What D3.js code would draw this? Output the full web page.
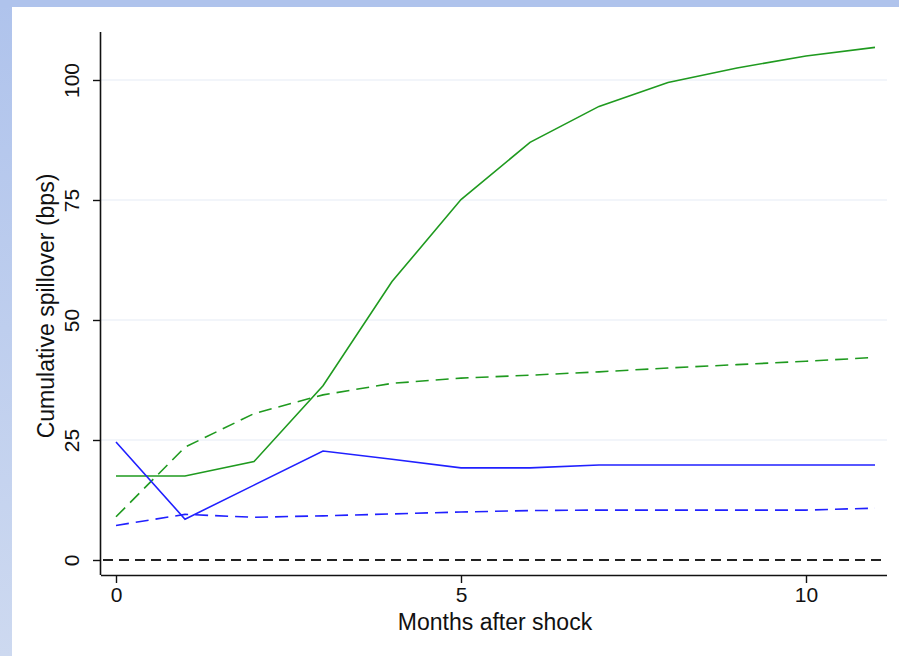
<!DOCTYPE html>
<html>
<head>
<meta charset="utf-8">
<script src="https://cdn.jsdelivr.net/npm/d3@7"></script>
<style>
  html, body { margin: 0; padding: 0; background: #fff; }
  svg { display: block; }
  text { font-family: "Liberation Sans", Arial, sans-serif; fill: #111; }
</style>
</head>
<body>
<svg id="chart" width="899" height="656"></svg>
<script>
// Months after the shock (x axis)
const months = [0, 1, 2, 3, 4, 5, 6, 7, 8, 9, 10, 11];

// Cumulative spillover estimates (bps)
const greenSolid  = [17.5, 17.5, 20.5, 36.3, 58.0, 75.1, 87.0, 94.5, 99.5, 102.5, 105.0, 106.8];
const greenDashed = [9.0, 23.5, 30.5, 34.4, 36.8, 37.9, 38.5, 39.2, 40.0, 40.7, 41.4, 42.2];
const blueSolid   = [24.6, 8.5, 15.6, 22.7, 21.0, 19.2, 19.2, 19.8, 19.8, 19.8, 19.8, 19.8];
const blueDashed  = [7.2, 9.5, 8.9, 9.2, 9.6, 10.0, 10.3, 10.4, 10.4, 10.4, 10.4, 10.8];

// Axis ticks
const xTicks = [0, 5, 10];
const yTicks = [0, 25, 50, 75, 100];
const gridTicks = [25, 50, 75, 100];

const xTitle = "Months after shock";
const yTitle = "Cumulative spillover (bps)";

const svg = d3.select("#chart");
const W = 899, H = 656;

// Framed page background
const defs = svg.append("defs");
const grad = defs.append("linearGradient")
  .attr("id", "frameGrad").attr("x1", 0).attr("y1", 0).attr("x2", 0).attr("y2", 1);
grad.append("stop").attr("offset", "0%").attr("stop-color", "#afc3ec");
grad.append("stop").attr("offset", "100%").attr("stop-color", "#cdd9f0");
svg.append("rect").attr("x", 0).attr("y", 0).attr("width", W).attr("height", H).attr("fill", "url(#frameGrad)");
svg.append("rect").attr("x", 0).attr("y", 0).attr("width", W).attr("height", 7).attr("fill", "#afc3ec");
svg.append("rect").attr("x", 12).attr("y", 7).attr("width", W - 12).attr("height", H - 7).attr("fill", "#ffffff");

// Plot region
const plot = { left: 101, right: 887, top: 32, bottom: 575 };
const x = d3.scaleLinear().domain([0, 5]).range([116, 461]);
const y = d3.scaleLinear().domain([0, 25]).range([560, 440]);

// Light horizontal gridlines
svg.append("g").selectAll("line").data(gridTicks).join("line")
  .attr("x1", plot.left).attr("x2", plot.right)
  .attr("y1", d => y(d)).attr("y2", d => y(d))
  .attr("stroke", "#eef2f8").attr("stroke-width", 1.5);

// Zero reference line
svg.append("line")
  .attr("x1", plot.left + 2).attr("x2", plot.right)
  .attr("y1", y(0)).attr("y2", y(0))
  .attr("stroke", "#222").attr("stroke-width", 1.8)
  .attr("stroke-dasharray", "10,6");

// Axes
const xAxis = d3.axisBottom(x).tickValues(xTicks).tickSize(8).tickPadding(4).tickFormat(d3.format("d"));
const gx = svg.append("g").attr("transform", `translate(0,${plot.bottom})`).call(xAxis);
gx.select(".domain").attr("d", `M${plot.left},0.5H${plot.right}`).attr("stroke", "#111").attr("stroke-width", 1.6);
gx.selectAll(".tick line").attr("stroke", "#111").attr("stroke-width", 1.4);
gx.selectAll(".tick text").attr("font-size", 21).attr("fill", "#111")
  .attr("font-family", "Liberation Sans, Arial, sans-serif");

const yAxis = d3.axisLeft(y).tickValues(yTicks).tickSize(8).tickFormat(d3.format("d"));
const gy = svg.append("g").attr("transform", `translate(${plot.left},0)`).call(yAxis);
gy.select(".domain").attr("d", `M-0.5,${plot.top}V${plot.bottom}`).attr("stroke", "#111").attr("stroke-width", 1.6);
gy.selectAll(".tick line").attr("stroke", "#111").attr("stroke-width", 1.4);
gy.selectAll(".tick text")
  .attr("font-size", 21).attr("fill", "#111")
  .attr("font-family", "Liberation Sans, Arial, sans-serif")
  .attr("x", null).attr("dy", null)
  .attr("text-anchor", "middle")
  .attr("transform", "translate(-22,0) rotate(-90)");

// Axis titles
svg.append("text")
  .attr("x", 495).attr("y", 630)
  .attr("text-anchor", "middle").attr("font-size", 23)
  .text(xTitle);
svg.append("text")
  .attr("transform", `translate(54,${306}) rotate(-90)`)
  .attr("text-anchor", "middle").attr("font-size", 23)
  .text(yTitle);

// Series lines
const series = [
  { values: greenSolid,  color: "#1f9a1f", dash: null },
  { values: greenDashed, color: "#1f9a1f", dash: "13,7" },
  { values: blueSolid,   color: "#2020ff", dash: null },
  { values: blueDashed,  color: "#2020ff", dash: "13,7" }
];
const line = d3.line().x((d, i) => x(months[i])).y(d => y(d));
svg.append("g").selectAll("path").data(series).join("path")
  .attr("d", d => line(d.values))
  .attr("fill", "none")
  .attr("stroke", d => d.color)
  .attr("stroke-width", 1.6)
  .attr("stroke-dasharray", d => d.dash);
</script>
</body>
</html>
